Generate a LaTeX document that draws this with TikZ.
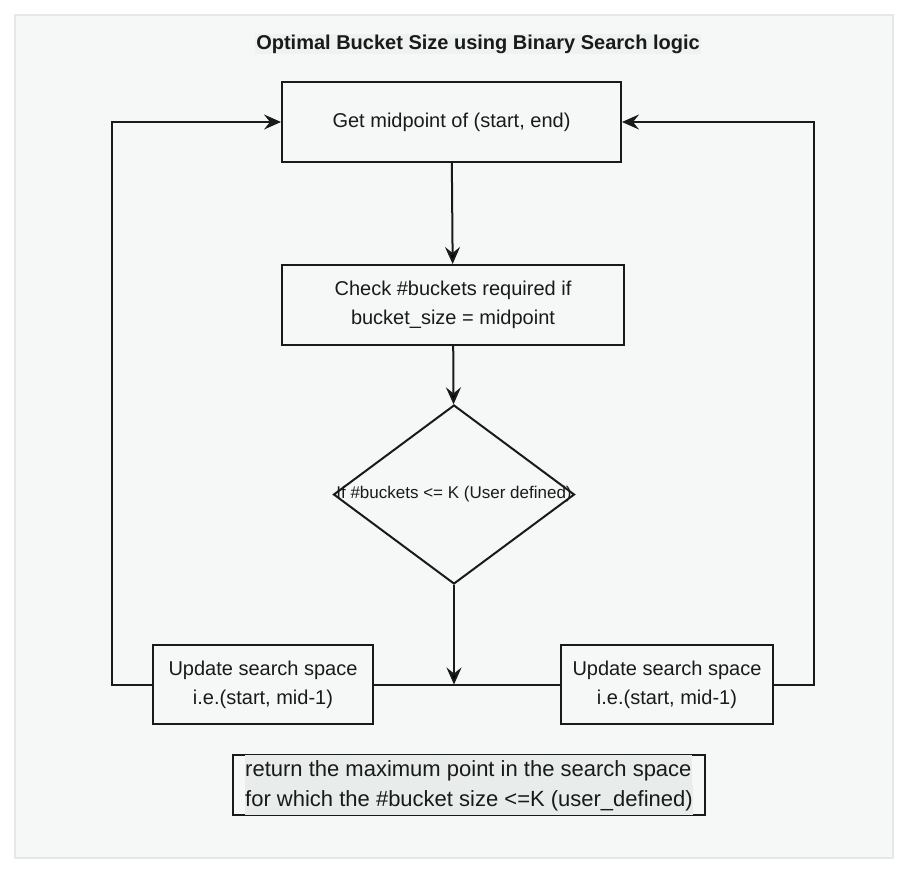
\documentclass[tikz,border=0pt]{standalone}
\usepackage{fontspec}
\setmainfont{Liberation Sans}
\usetikzlibrary{arrows.meta,shapes.geometric}

\definecolor{panelbg}{HTML}{F5F8F7}
\definecolor{panelline}{HTML}{E4E8E7}
\definecolor{ink}{HTML}{1A1A1A}
\definecolor{hilite}{HTML}{E8ECEB}
\definecolor{titlebg}{HTML}{EEF2F1}

\tikzset{
	stepbox/.style={shape=rectangle,draw=ink,line width=2pt,fill=panelbg,text=ink,align=center,inner sep=0pt,font=\fontsize{20}{29}\selectfont},
	decision/.style={shape=diamond,draw=ink,line width=2pt,fill=panelbg,text=ink,inner sep=0pt,minimum width=241pt,minimum height=179pt,font=\fontsize{17}{20}\selectfont},
	flow/.style={draw=ink,line width=2pt,-{Stealth[length=17pt,width=15pt,inset=6pt]}},
	wire/.style={draw=ink,line width=2pt}
}
\newcommand{\hl}[1]{\colorbox{hilite}{\strut #1}}

\begin{document}
\begin{tikzpicture}[x=1pt,y=-1pt]
	\useasboundingbox[fill=white] (0,0) rectangle (910,876);
	\draw[panelline,fill=panelbg,line width=1.5pt] (15,15) rectangle (893,858);

	\node[fill=titlebg,text=ink,inner sep=1pt,font=\fontsize{20}{24}\selectfont\bfseries] (title) at (478,44) {Optimal Bucket Size using Binary Search logic};

	\node[stepbox,minimum width=339pt,minimum height=80pt] (getmid)   at (451.5,122) {Get midpoint of (start, end)};
	\node[stepbox,minimum width=342pt,minimum height=80pt] (check)    at (453,305)   {Check \#buckets required if\\bucket\_size = midpoint};
	\node[decision]                                        (test)     at (454,494.5) {\makebox[0pt]{If \#buckets <= K (User defined)}};
	\node[stepbox,minimum width=220pt,minimum height=79pt] (leftupd)  at (263,684.5) {Update search space\\i.e.(start, mid-1)};
	\node[stepbox,minimum width=212pt,minimum height=79pt] (rightupd) at (667,684.5) {Update search space\\i.e.(start, mid-1)};
	\node[stepbox,minimum width=472pt,minimum height=60pt,align=left,font=\fontsize{22}{30}\selectfont] (result) at (469,785)
		{{\fboxsep=0pt\hl{return the maximum point in the search space}}\\{\fboxsep=0pt\hl{for which the \#bucket size <=K (user\_defined)}}};

	\coordinate (join) at (454,684.5);

	\path[flow] (getmid) edge (check);
	\path[flow] (check) edge (test);
	\path[flow] (test) edge (join);
	\path[wire] (leftupd) edge (rightupd);
	\draw[flow] (leftupd.west) -- ++(-40,0) |- (getmid.west);
	\draw[flow] (rightupd.east) -- ++(40,0) |- (getmid.east);
\end{tikzpicture}
\end{document}
